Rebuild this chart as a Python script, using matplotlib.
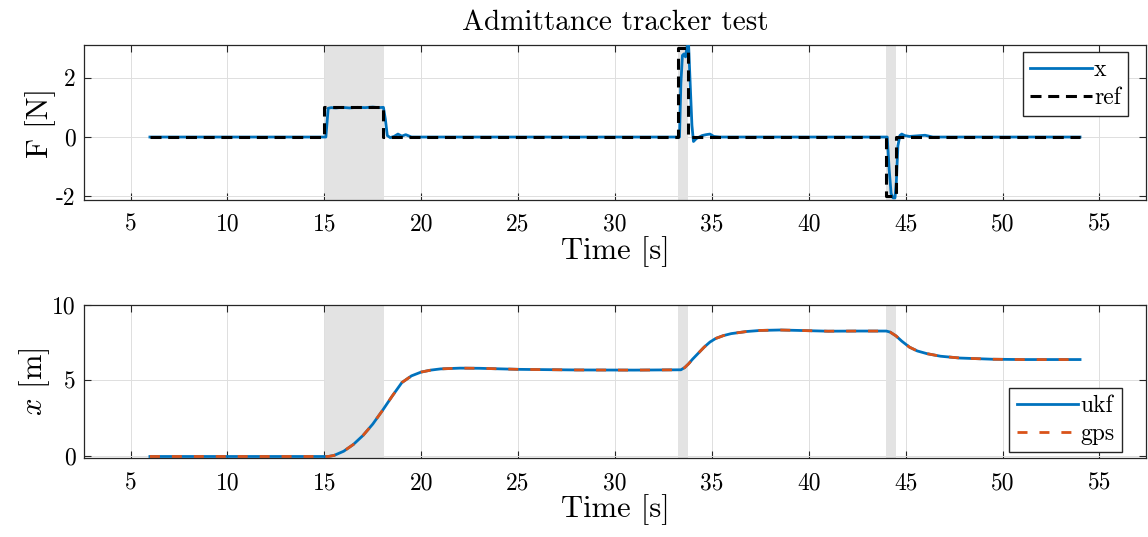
import matplotlib
matplotlib.use("Agg")
import matplotlib.pyplot as plt

# Computer Modern look for all text
plt.rcParams['font.family'] = 'cmr10'
plt.rcParams['mathtext.fontset'] = 'cm'
plt.rcParams['axes.formatter.use_mathtext'] = False
plt.rcParams['axes.unicode_minus'] = False

# force measured on the tracker
t_force = [6, 15.08, 15.2, 15.35, 15.6, 15.9, 16.3, 16.7, 17.1, 17.5, 17.8, 18.05,
           18.15, 18.25, 18.4, 18.6, 18.8, 19.0, 19.2, 19.5, 20, 22, 25, 30,
           33.33, 33.4, 33.48, 33.56, 33.64, 33.72, 33.8, 33.88, 33.97, 34.05,
           34.2, 34.5, 34.7, 34.9, 35.1, 35.4, 36, 40,
           44.05, 44.15, 44.25, 44.35, 44.45, 44.52, 44.6, 44.7, 44.8, 44.95,
           45.2, 45.6, 46.0, 46.4, 47, 50, 54]
F_x = [0, 0, 0.97, 0.99, 0.98, 1.0, 0.98, 1.0, 0.99, 1.01, 0.99, 1.0,
       0.6, 0.05, -0.02, 0.02, 0.1, 0.03, 0.08, 0.0, 0.0, 0.0, 0.0, 0.0,
       0.0, 1.8, 2.75, 2.8, 2.7, 3.05, 3.1, 1.8, 0.4, -0.15,
       -0.05, 0.05, 0.08, 0.1, 0.02, 0.0, 0.0, 0.0,
       0.0, -1.1, -1.9, -2.05, -2.05, -1.5, -0.3, 0.05, 0.1, 0.05,
       0.02, 0.04, 0.06, 0.0, 0.0, 0.0, 0.0]

# reference force (step changes)
t_ref = [6, 15.0, 18.05, 33.27, 33.77, 44.0, 44.5, 54]
F_ref = [0, 1, 0, 3, 0, -2, 0, 0]

# position estimates
t_pos = [6, 15.2, 15.5, 16.0, 16.5, 17.0, 17.5, 18.0, 18.5, 19.0, 19.5, 20.0,
         20.5, 21.0, 22.0, 23.0, 25.0, 28.0, 31.0, 33.4, 33.6, 33.8, 34.0,
         34.3, 34.6, 34.9, 35.2, 35.6, 36.0, 36.8, 37.5, 38.5, 39.5, 41.0,
         42.5, 44.0, 44.2, 44.5, 44.8, 45.2, 45.6, 46.1, 46.8, 47.8, 49.5,
         51.0, 54.0]
pos_ukf = [-0.05, -0.05, 0.02, 0.3, 0.75, 1.35, 2.1, 3.0, 3.95, 4.85, 5.3, 5.55,
           5.68, 5.76, 5.81, 5.8, 5.73, 5.69, 5.68, 5.7, 5.85, 6.1, 6.4,
           6.8, 7.2, 7.54, 7.78, 7.97, 8.1, 8.24, 8.31, 8.34, 8.31, 8.26,
           8.27, 8.27, 8.2, 7.95, 7.6, 7.2, 6.95, 6.77, 6.6, 6.48, 6.4,
           6.38, 6.38]
pos_gps = [-0.05, -0.05, 0.02, 0.3, 0.75, 1.35, 2.1, 3.0, 3.95, 4.85, 5.3, 5.55,
           5.68, 5.76, 5.81, 5.8, 5.73, 5.69, 5.68, 5.7, 5.85, 6.1, 6.4,
           6.8, 7.2, 7.54, 7.78, 7.97, 8.1, 8.24, 8.31, 8.34, 8.31, 8.26,
           8.27, 8.27, 8.2, 7.95, 7.6, 7.2, 6.95, 6.77, 6.6, 6.48, 6.4,
           6.38, 6.38]

# intervals where a force was applied
spans = [(15.05, 18.08), (33.27, 33.77), (43.98, 44.48)]

blue = '#0072BD'
orange = '#D95319'
frame = '#262626'

fig = plt.figure(figsize=(11.48, 5.37), dpi=100)
ax1 = fig.add_axes([0.0732, 0.6276, 0.925, 0.2886])
ax2 = fig.add_axes([0.0732, 0.1471, 0.925, 0.285])

def style(ax):
    ax.grid(True, color='#dedede', linewidth=0.7)
    ax.set_axisbelow(True)
    ax.tick_params(direction='in', top=True, right=True, length=5, width=0.8,
                   color=frame, labelsize=17)
    ax.tick_params(axis='x', pad=10)
    ax.tick_params(axis='y', pad=6)
    for s in ax.spines.values():
        s.set_color(frame)
        s.set_linewidth(0.9)
    for a, b in spans:
        ax.axvspan(a, b, color='#e3e3e3', linewidth=0, zorder=1)
    ax.set_xlim(2.6, 57.4)
    ax.set_xticks(range(5, 60, 5))
    ax.set_xlabel('Time [s]', fontsize=22, labelpad=0)

leg_kw = dict(fontsize=17, fancybox=False, framealpha=1, edgecolor=frame,
              handlelength=2.6, borderaxespad=0, handletextpad=0.1,
              borderpad=0.3, labelspacing=0.25)

style(ax1)
ax1.plot(t_force, F_x, color=blue, lw=2, label='x', zorder=3)
ax1.plot(t_ref, F_ref, color='black', lw=2.2, dashes=(3.6, 2.2),
         drawstyle='steps-post', label='ref', zorder=4)
ax1.set_ylim(-2.12, 3.1)
ax1.set_yticks([-2, 0, 2])
ax1.set_ylabel('F [N]', fontsize=22, labelpad=0)
ax1.set_title('Admittance tracker test', fontsize=21, pad=11)
ax1.legend(loc='upper right', bbox_to_anchor=(0.983, 0.955), **leg_kw)

style(ax2)
ax2.plot(t_pos, pos_ukf, color=blue, lw=2, label='ukf', zorder=3)
ax2.plot(t_pos, pos_gps, color=orange, lw=2, dashes=(3.6, 4.3),
         label='gps', zorder=4)
ax2.set_ylim(-0.15, 10)
ax2.set_yticks([0, 5, 10])
ax2.set_ylabel('$x$ [m]', fontsize=22, labelpad=0)
ax2.legend(loc='lower right', bbox_to_anchor=(0.977, 0.039), **leg_kw)

fig.savefig('out.png', dpi=100)
